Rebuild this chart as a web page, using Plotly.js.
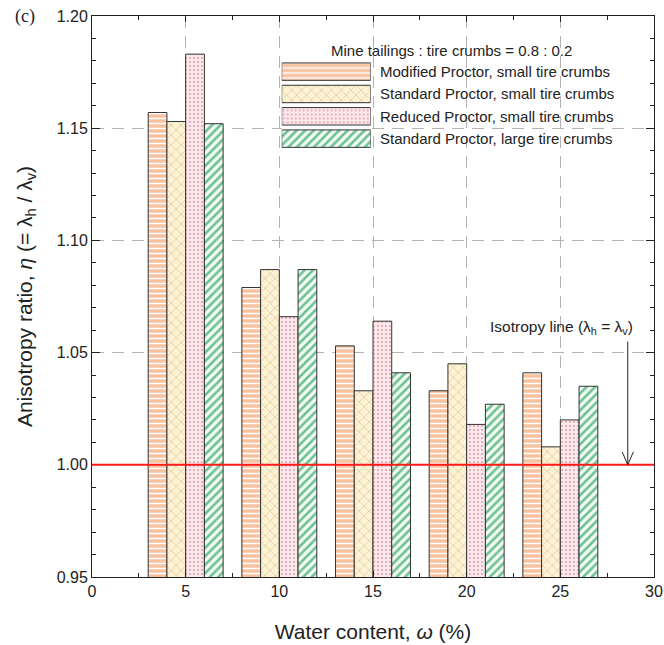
<!DOCTYPE html>
<html>
<head>
<meta charset="utf-8">
<script src="https://cdn.plot.ly/plotly-3.0.1.min.js"></script>
<style>html,body{margin:0;padding:0;background:#fff;}#chart{width:664px;height:645px;}</style>
</head>
<body>
<div id="chart"></div>
<script>
// ---- data ----
const waterContent = [5, 10, 15, 20, 25];
const seriesNames = [
  "Modified Proctor, small tire crumbs",
  "Standard Proctor, small tire crumbs",
  "Reduced Proctor, small tire crumbs",
  "Standard Proctor, large tire crumbs"
];
const modifiedSmall = [1.157, 1.079, 1.053, 1.033, 1.041];
const standardSmall = [1.153, 1.087, 1.033, 1.045, 1.008];
const reducedSmall  = [1.183, 1.066, 1.064, 1.018, 1.020];
const standardLarge = [1.152, 1.087, 1.041, 1.027, 1.035];
const isotropyValue = 1.00;
const legendTitle = "Mine tailings : tire crumbs = 0.8 : 0.2";

// ---- styles ----
const patterns = [
  {shape: "-", bgcolor: "#f7c2a0", fgcolor: "#ffffff", size: 5, solidity: 0.3, fillmode: "replace"},
  {shape: "x", bgcolor: "#fdf3d4", fgcolor: "#cfb98a", size: 7, solidity: 0.15, fillmode: "replace"},
  {shape: ".", bgcolor: "#fce9ed", fgcolor: "#cc5564", size: 4, solidity: 0.1, fillmode: "replace"},
  {shape: "/", bgcolor: "#f2fbf5", fgcolor: "#6cc18f", size: 6, solidity: 0.42, fillmode: "replace"}
];
const allSeries = [modifiedSmall, standardSmall, reducedSmall, standardLarge];
const font = "Arial, 'Liberation Sans', sans-serif";

const traces = allSeries.map((vals, i) => ({
  type: "bar",
  x: waterContent,
  y: vals,
  name: seriesNames[i],
  showlegend: false,
  marker: {color: patterns[i].bgcolor, pattern: patterns[i], line: {color: "#333", width: 1}},
  hoverinfo: "x+y"
}));

// legend swatches drawn as horizontal bars on a small helper axis pair
seriesNames.forEach((n, i) => {
  traces.push({
    type: "bar",
    orientation: "h",
    x: [1], y: [i], base: 0, width: 0.78,
    xaxis: "x2", yaxis: "y2",
    showlegend: false, hoverinfo: "skip",
    marker: {color: patterns[i].bgcolor, pattern: patterns[i], line: {color: "#333", width: 1}}
  });
});

const annotations = seriesNames.map((n, i) => ({
  text: n, xref: "paper", yref: "y2", x: 0.5085, y: i,
  xanchor: "left", yanchor: "middle", showarrow: false,
  font: {family: font, size: 15, color: "#222"}
}));
annotations.push({
  text: legendTitle, xref: "paper", yref: "paper", x: 0.64, y: 0.938,
  xanchor: "center", yanchor: "middle", showarrow: false,
  font: {family: font, size: 15, color: "#222"}
});
annotations.push({
  text: "Isotropy line (λ<sub>h</sub> = λ<sub>v</sub>)", xref: "x", yref: "y", x: 25.05, y: 1.0612,
  xanchor: "center", yanchor: "middle", showarrow: false,
  font: {family: font, size: 15.5, color: "#222"}
});
annotations.push({
  text: "(c)", xref: "paper", yref: "paper", x: -0.119, y: 1.0,
  xanchor: "center", yanchor: "middle", showarrow: false,
  font: {family: "'Liberation Serif', 'Times New Roman', serif", size: 18, color: "#222"}
});

const arrowX = 28.6, arrowTop = 1.0549;
const shapes = [
  {type: "line", xref: "x", yref: "y", x0: 0, x1: 30, y0: isotropyValue, y1: isotropyValue,
   line: {color: "#ff1a1a", width: 2}, layer: "above"},
  {type: "line", xref: "x", yref: "y", x0: arrowX, x1: arrowX, y0: arrowTop, y1: isotropyValue,
   line: {color: "#222", width: 1}},
  {type: "path", xref: "x", yref: "y",
   path: `M ${arrowX - 0.3},${isotropyValue + 0.0058} L ${arrowX},${isotropyValue} L ${arrowX + 0.3},${isotropyValue + 0.0058}`,
   line: {color: "#222", width: 1}}
];

const layout = {
  width: 664, height: 645,
  margin: {l: 92, r: 10, t: 16, b: 68},
  paper_bgcolor: "#fff", plot_bgcolor: "#fff",
  barmode: "group", bargap: 0.2, bargroupgap: 0,
  font: {family: font, color: "#222"},
  xaxis: {
    range: [0, 30], dtick: 5, tick0: 0, ticks: "inside", ticklen: 6, tickcolor: "#222",
    showline: true, linecolor: "#222", linewidth: 1, mirror: "ticks",
    showgrid: true, gridcolor: "#b4b4b4", griddash: "12px,8px", gridwidth: 1, zeroline: false,
    minor: {dtick: 2.5, ticks: "inside", ticklen: 4, tickcolor: "#222", showgrid: false},
    tickfont: {size: 16, color: "#222"},
    title: {text: "Water content, <i>ω</i> (%)", font: {size: 21, color: "#222"}, standoff: 25}
  },
  yaxis: {
    range: [0.95, 1.20], dtick: 0.05, tick0: 0.95, tickformat: ".2f", ticks: "inside", ticklen: 8, tickcolor: "#222",
    showline: true, linecolor: "#222", linewidth: 1, mirror: "ticks",
    showgrid: true, gridcolor: "#b4b4b4", griddash: "12px,8px", gridwidth: 1, zeroline: false,
    minor: {dtick: 0.01, ticks: "inside", ticklen: 4, tickcolor: "#222", showgrid: false},
    tickfont: {size: 16, color: "#222"},
    title: {text: "Anisotropy ratio, <i>η</i> (= λ<sub>h</sub> / λ<sub>v</sub>)", font: {size: 21, color: "#222"}, standoff: 18}
  },
  xaxis2: {domain: [0.3376, 0.4959], range: [0, 1], anchor: "y2", visible: false, fixedrange: true},
  yaxis2: {domain: [0.7615, 0.9207], range: [3.5, -0.5], anchor: "x2", visible: false, fixedrange: true},
  annotations: annotations,
  shapes: shapes
};

Plotly.newPlot("chart", traces, layout, {displayModeBar: false, staticPlot: true});
</script>
</body>
</html>
